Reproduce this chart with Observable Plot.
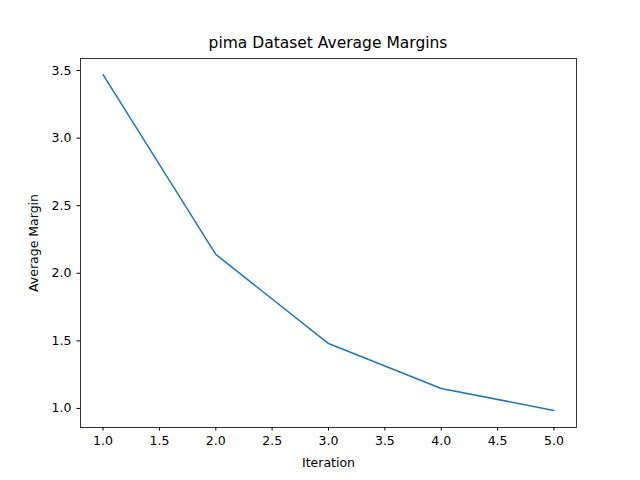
<!DOCTYPE html>
<html>
<head>
<meta charset="utf-8">
<script src="https://cdn.jsdelivr.net/npm/d3@7"></script>
<script src="https://cdn.jsdelivr.net/npm/@observablehq/plot@0.6"></script>
<style>
  body { margin: 0; background: #fff; }
  #wrap { position: relative; width: 640px; height: 480px; font-family: "DejaVu Sans", sans-serif; }
  #title { position: absolute; top: 34px; left: 80px; width: 496px; text-align: center; font-size: 15.5px; }
</style>
</head>
<body>
<div id="wrap"><div id="title">pima Dataset Average Margins</div><div id="chart"></div></div>
<script>
const iterations = [1, 2, 3, 4, 5];
const margins = [3.47, 2.14, 1.48, 1.148, 0.985];
const xTicks = [1, 1.5, 2, 2.5, 3, 3.5, 4, 4.5, 5];
const yTicks = [1, 1.5, 2, 2.5, 3, 3.5];

const data = iterations.map((it, i) => ({iteration: it, margin: margins[i]}));

let chart = Plot.plot({
  width: 640, height: 480,
  marginLeft: 80, marginRight: 64, marginTop: 58, marginBottom: 53,
  style: {fontFamily: "DejaVu Sans, sans-serif", fontSize: "12.5px", color: "#000", background: "#fff"},
  x: {domain: [0.8, 5.2], ticks: xTicks, tickFormat: d3.format(".1f"), tickSize: 3.5, label: "Iteration", labelAnchor: "center", labelOffset: 39, labelArrow: "none"},
  y: {domain: [0.859, 3.589], ticks: yTicks, tickFormat: d3.format(".1f"), tickSize: 3.5, label: "Average Margin", labelAnchor: "center", labelOffset: 51, labelArrow: "none"},
  marks: [
    Plot.frame({stroke: "#000", strokeWidth: 0.8}),
    Plot.line(data, {x: "iteration", y: "margin", stroke: "#1f77b4", strokeWidth: 1.5})
  ]
});
d3.select('#chart').append(() => chart);
</script>
</body>
</html>
